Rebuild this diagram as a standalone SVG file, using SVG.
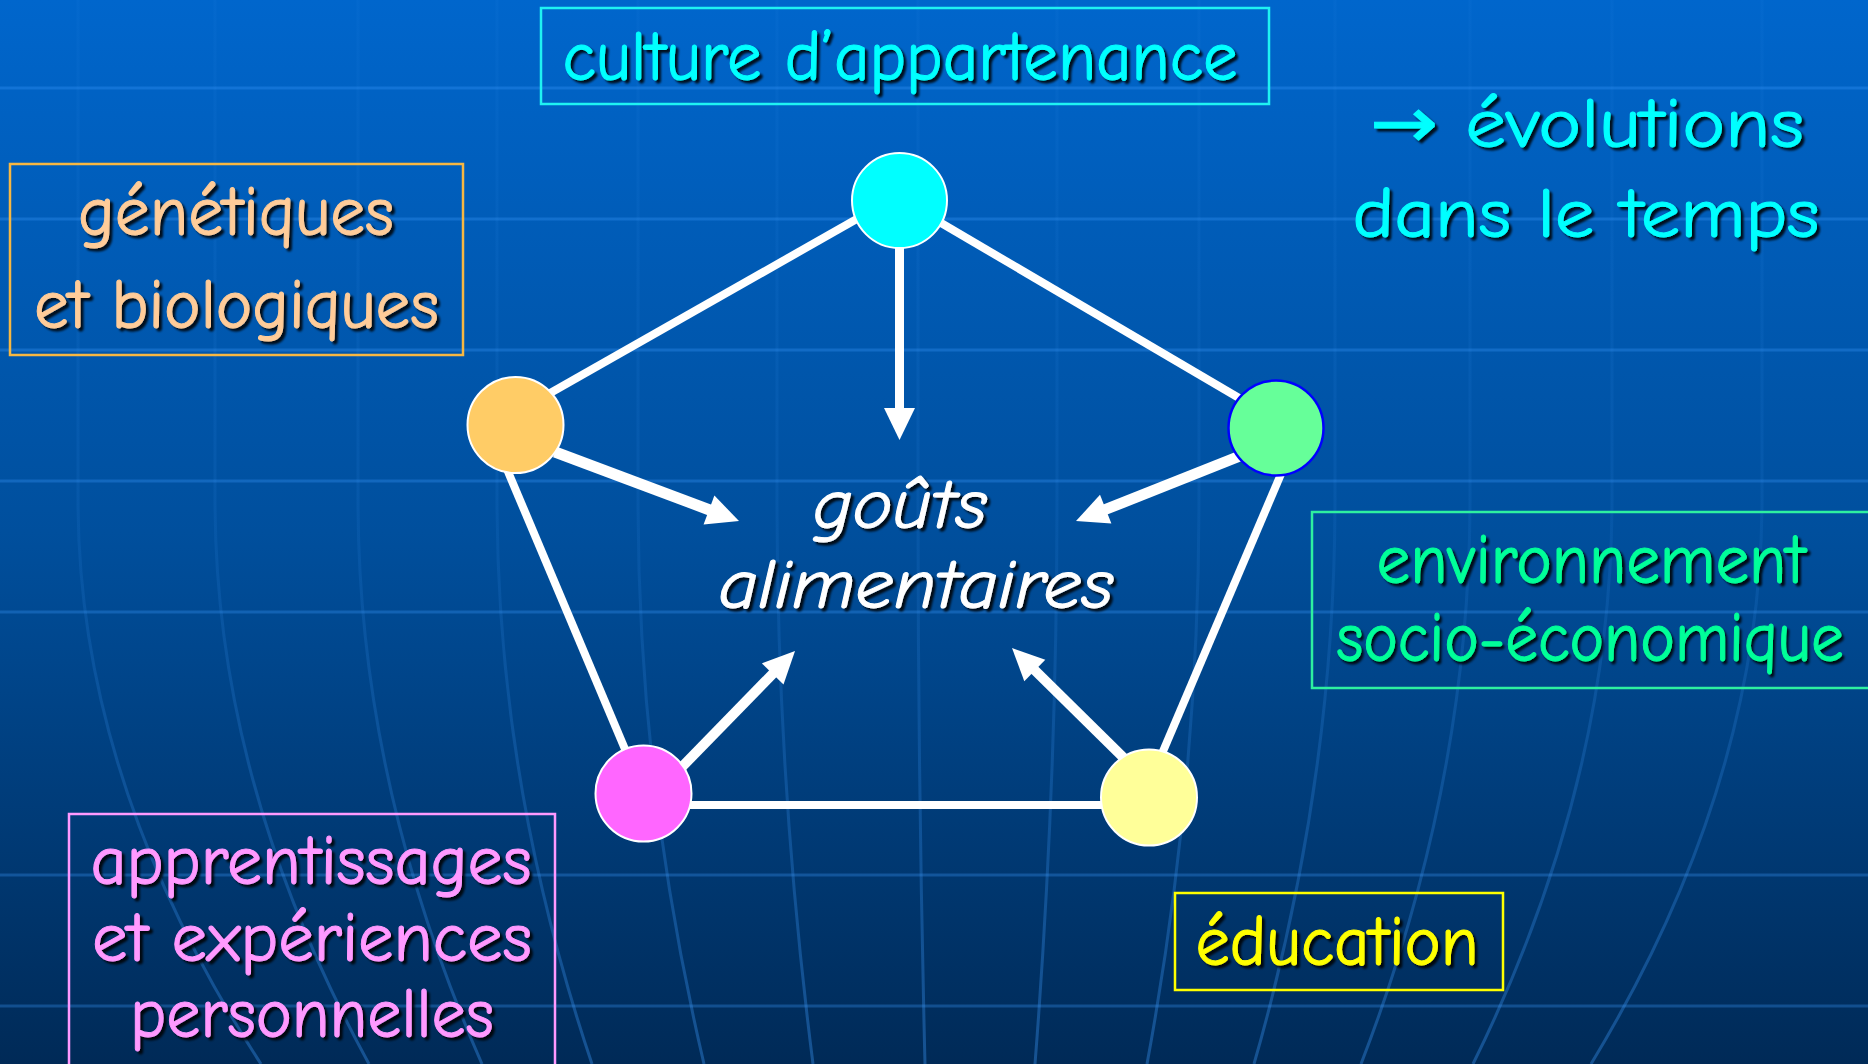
<svg xmlns="http://www.w3.org/2000/svg" width="1868" height="1064" viewBox="0 0 1868 1064">
  <defs>
    <linearGradient id="bg" x1="0" y1="0" x2="0" y2="1">
      <stop offset="0" stop-color="#0066cc"/>
      <stop offset="0.5" stop-color="#004f9d"/>
      <stop offset="1" stop-color="#002a57"/>
    </linearGradient>
    <linearGradient id="meridian" gradientUnits="userSpaceOnUse" x1="0" y1="0" x2="0" y2="1064">
      <stop offset="0" stop-color="#3a94f2" stop-opacity="0.06"/>
      <stop offset="0.5" stop-color="#3a94f2" stop-opacity="0.11"/>
      <stop offset="1" stop-color="#3a94f2" stop-opacity="0.38"/>
    </linearGradient>
    <filter id="shadow" x="-10%" y="-30%" width="120%" height="160%">
      <feDropShadow dx="3" dy="3" stdDeviation="1.2" flood-color="#000" flood-opacity="0.85"/>
    </filter>
    <style>
      .grid-h { stroke: #3a9aff; stroke-opacity: 0.3; stroke-width: 3; fill: none; }
      .grid-v { stroke: url(#meridian); stroke-width: 3; fill: none; }
      .lbl { font-family: "Comic Sans MS", "Comic Neue", "DejaVu Sans", sans-serif; font-size: 70px; text-anchor: middle; filter: url(#shadow); stroke-width: 1; }
      .box { fill: none; stroke-width: 2.5; }
      .edge { stroke: #fff; stroke-width: 8; fill: none; }
      .shaft { stroke: #fff; fill: none; }
      .head { fill: #fff; }
      .dot { stroke: #fff; stroke-width: 2; }
    </style>
  </defs>

  <!-- backdrop: gradient with globe-like grid -->
  <rect width="1868" height="1064" fill="url(#bg)"/>
  <g id="grid">
    <path class="grid-h" d="M0 88H1868M0 219H1868M0 350H1868M0 481H1868M0 612H1868M0 875H1868M0 1006H1868"/>
    <path class="grid-v" d="M78 0V500Q78 782 261 1064"/>
    <path class="grid-v" d="M215 0V500Q215 782 369 1064"/>
    <path class="grid-v" d="M358 0V500Q358 782 482 1064"/>
    <path class="grid-v" d="M497 0V500Q497 782 592 1064"/>
    <path class="grid-v" d="M638 0V500Q638 782 704 1064"/>
    <path class="grid-v" d="M777 0V500Q777 782 813 1064"/>
    <path class="grid-v" d="M918 0V500Q918 782 925 1064"/>
    <path class="grid-v" d="M1057 0V500Q1057 782 1035 1064"/>
    <path class="grid-v" d="M1199 0V500Q1199 782 1147 1064"/>
    <path class="grid-v" d="M1335 0V500Q1335 782 1254 1064"/>
    <path class="grid-v" d="M1470 0V500Q1470 782 1361 1064"/>
    <path class="grid-v" d="M1612 0V500Q1612 782 1473 1064"/>
    <path class="grid-v" d="M1762 0V500Q1762 782 1591 1064"/>
  </g>

  <!-- pentagon edges and arrows toward the centre -->
  <g id="connectors">
    <line class="edge" x1="862" y1="216" x2="545" y2="396"/>
    <line class="edge" x1="936" y1="220" x2="1245" y2="401.5"/>
    <line class="edge" x1="505" y1="464.5" x2="630" y2="761"/>
    <line class="edge" x1="1284" y1="467" x2="1158" y2="763"/>
    <line class="edge" x1="660" y1="805" x2="1130" y2="805"/>

    <line class="shaft" stroke-width="9" x1="899.5" y1="240" x2="899.5" y2="410"/>
    <polygon class="head" points="899.5,440 884,408 915,408"/>

    <line class="shaft" stroke-width="11" x1="555" y1="452" x2="711" y2="510.5"/>
    <polygon class="head" points="739,521 703.6,524.5 714.4,495.5"/>

    <line class="shaft" stroke-width="11" x1="1245" y1="454" x2="1104" y2="510"/>
    <polygon class="head" points="1076,521 1100,494.8 1111.4,523.6"/>

    <line class="shaft" stroke-width="10" x1="678" y1="771" x2="775" y2="671.5"/>
    <polygon class="head" points="795,651 783.5,684.4 761.9,663.4"/>

    <line class="shaft" stroke-width="10" x1="1131" y1="765" x2="1033" y2="668.5"/>
    <polygon class="head" points="1012,648 1045.3,659.8 1024.3,681.2"/>
  </g>

  <!-- factor nodes -->
  <g id="node-culture">
    <circle class="dot" cx="899.5" cy="200.5" r="47.5" fill="#00ffff"/>
    <rect class="box" x="541" y="8" width="728" height="96" stroke="#1ff2f2"/>
    <text class="lbl" x="900" y="80" fill="#00ffff" stroke="#00ffff" textLength="675" lengthAdjust="spacingAndGlyphs">culture d’appartenance</text>
  </g>

  <g id="node-genetique">
    <circle class="dot" cx="515.5" cy="425" r="48" fill="#ffcc66"/>
    <rect class="box" x="10" y="164" width="453" height="191" stroke="#f7b742"/>
    <text class="lbl" x="236" y="235" fill="#ffcc99" stroke="#ffcc99" textLength="316" lengthAdjust="spacingAndGlyphs">génétiques</text>
    <text class="lbl" x="236.5" y="328" fill="#ffcc99" stroke="#ffcc99" textLength="405" lengthAdjust="spacingAndGlyphs">et biologiques</text>
  </g>

  <g id="node-environnement">
    <circle cx="1276" cy="428" r="47.5" fill="#66ff99" stroke="#0000ff" stroke-width="2.5"/>
    <!-- frame runs off the right edge of the page -->
    <path class="box" d="M1868 512H1312V688H1868" stroke="#2ef0a0"/>
    <text class="lbl" x="1591" y="583" fill="#00ff99" stroke="#00ff99" textLength="429" lengthAdjust="spacingAndGlyphs">environnement</text>
    <!-- narrowed horizontally so the long word stays inside the page -->
    <text class="lbl" transform="translate(1590 661) scale(0.76 1)" x="0" y="0" fill="#00ff99" stroke="#00ff99" textLength="668" lengthAdjust="spacingAndGlyphs">socio-économique</text>
  </g>

  <g id="node-apprentissages">
    <circle class="dot" cx="643.5" cy="793.5" r="48" fill="#ff66ff"/>
    <!-- frame runs off the bottom edge of the page -->
    <path class="box" d="M69 1064V814H555V1064" stroke="#ff99ff"/>
    <text class="lbl" x="311" y="884" fill="#ff99ff" stroke="#ff99ff" textLength="441" lengthAdjust="spacingAndGlyphs">apprentissages</text>
    <text class="lbl" x="312" y="961" fill="#ff99ff" stroke="#ff99ff" textLength="440" lengthAdjust="spacingAndGlyphs">et expériences</text>
    <text class="lbl" x="312" y="1037" fill="#ff99ff" stroke="#ff99ff" textLength="364" lengthAdjust="spacingAndGlyphs">personnelles</text>
  </g>

  <g id="node-education">
    <circle class="dot" cx="1149" cy="797.5" r="48" fill="#ffff99"/>
    <rect class="box" x="1175" y="893" width="328" height="97" stroke="#ffff00"/>
    <text class="lbl" x="1337" y="965" fill="#ffff00" stroke="#ffff00" textLength="283" lengthAdjust="spacingAndGlyphs">éducation</text>
  </g>

  <!-- central theme -->
  <g id="node-gouts">
    <text class="lbl" x="900" y="528" fill="#ffffff" stroke="#ffffff" font-style="italic" textLength="174" lengthAdjust="spacingAndGlyphs">goûts</text>
    <text class="lbl" x="916" y="608" fill="#ffffff" stroke="#ffffff" font-style="italic" textLength="395" lengthAdjust="spacingAndGlyphs">alimentaires</text>
  </g>

  <!-- side note -->
  <g id="note-evolutions">
    <text class="lbl" x="1587" y="147" fill="#00ffff" stroke="#00ffff" font-size="80" textLength="434" lengthAdjust="spacingAndGlyphs">→ évolutions</text>
    <text class="lbl" x="1586" y="237" fill="#00ffff" stroke="#00ffff" font-size="80" textLength="467" lengthAdjust="spacingAndGlyphs">dans le temps</text>
  </g>
</svg>
